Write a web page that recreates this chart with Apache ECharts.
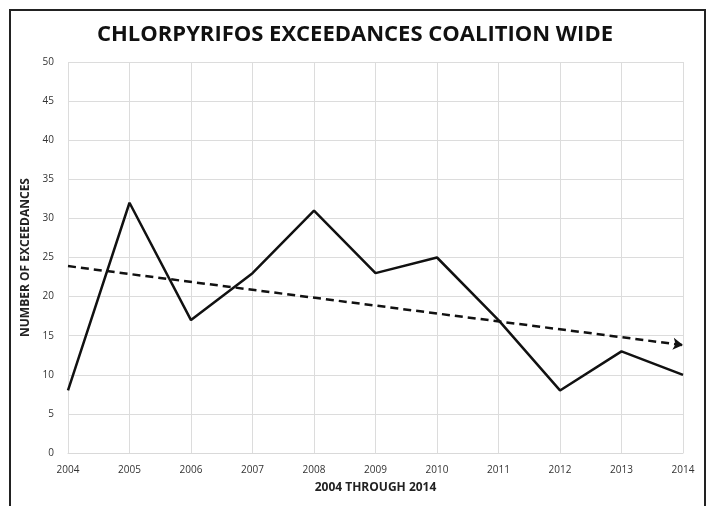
<!DOCTYPE html>
<html>
<head>
<meta charset="utf-8">
<script src="https://cdn.jsdelivr.net/npm/echarts@6/dist/echarts.min.js"></script>
<style>
  html, body { margin: 0; padding: 0; background: #fff; }
  #chart { width: 710px; height: 506px; }
</style>
</head>
<body>
<div id="chart"></div>
<script>
// years on the x axis
const years = [2004, 2005, 2006, 2007, 2008, 2009, 2010, 2011, 2012, 2013, 2014];
// exceedances per year
const exceedances = [8, 32, 17, 23, 31, 23, 25, 17, 8, 13, 10];
// dashed trend line end points (start year, end year)
const trendYears = [2004, 2014];
const trendValues = [23.9, 13.8];

const chart = echarts.init(document.getElementById('chart'));

const font = '"Open Sans", "Liberation Sans", sans-serif';

chart.setOption({
    animation: false,
    backgroundColor: '#fff',
    title: {
        text: 'CHLORPYRIFOS EXCEEDANCES COALITION WIDE',
        left: 'center',
        top: 19,
        textStyle: { fontFamily: font, fontWeight: 'bold', fontSize: 22, color: '#111' }
    },
    graphic: [{
        type: 'rect',
        shape: { x: 10, y: 10, width: 695, height: 520 },
        style: { fill: 'none', stroke: '#222', lineWidth: 2 },
        silent: true
    }],
    grid: { left: 68, right: 27, top: 62, bottom: 53 },
    xAxis: {
        type: 'value',
        min: 2004,
        max: 2014,
        interval: 1,
        name: '2004 THROUGH 2014',
        nameLocation: 'middle',
        nameGap: 29,
        nameTextStyle: { fontFamily: font, fontWeight: 'bold', fontSize: 12, color: '#222' },
        axisLine: { lineStyle: { color: '#d9d9d9' } },
        axisTick: { show: false },
        axisLabel: {
            fontFamily: font, fontSize: 10, color: '#333', margin: 12,
            formatter: v => String(v)
        },
        splitLine: { show: true, lineStyle: { color: '#dcdcdc', width: 1 } }
    },
    yAxis: {
        type: 'value',
        min: 0,
        max: 50,
        interval: 5,
        name: 'NUMBER OF EXCEEDANCES',
        nameLocation: 'middle',
        nameGap: 26,
        nameTextStyle: { fontFamily: font, fontWeight: 'bold', fontSize: 12, color: '#222' },
        axisLine: { show: false },
        axisTick: { show: false },
        axisLabel: { fontFamily: font, fontSize: 10, color: '#333', margin: 14 },
        splitLine: { lineStyle: { color: '#dcdcdc', width: 1 } }
    },
    series: [{
        type: 'line',
        data: years.map((y, i) => [y, exceedances[i]]),
        showSymbol: false,
        lineStyle: { color: '#111', width: 2.5 },
        markLine: {
            silent: true,
            symbol: ['none', 'arrow'],
            symbolSize: [9, 10],
            label: { show: false },
            lineStyle: { color: '#111', width: 2.5, type: [8, 5] },
            data: [[
                { coord: [trendYears[0], trendValues[0]] },
                { coord: [trendYears[1], trendValues[1]] }
            ]]
        }
    }]
});
</script>
</body>
</html>
